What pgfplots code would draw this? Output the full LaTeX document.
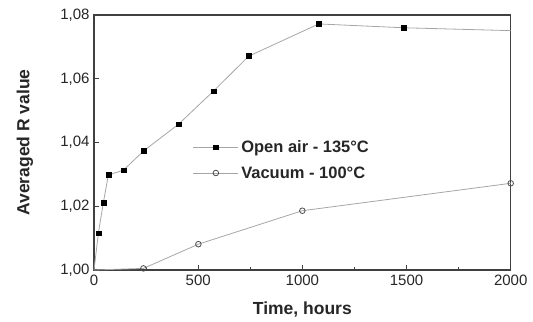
\documentclass[border=0pt]{standalone}
\usepackage{pgfplots}
\pgfplotsset{compat=1.18}
\usepackage{fontspec}
\setmainfont{Liberation Sans}
\begin{document}
\begin{tikzpicture}
\begin{axis}[
  scale only axis,
  width=416.7pt, height=255pt,
  xmin=0, xmax=2000, ymin=1.0, ymax=1.08,
  xtick={0,500,1000,1500,2000},
  ytick={1.00,1.02,1.04,1.06,1.08},
  minor x tick num=1,
  tick align=inside,
  xtick pos=bottom, ytick pos=left,
  major tick length=5pt, minor tick length=3pt,
  axis line style={line width=1.1pt, black!75},
  every tick/.style={line width=0.8pt, black!75},
  /pgf/number format/assume math mode=true,
  y tick label style={/pgf/number format/fixed, /pgf/number format/fixed zerofill,
    /pgf/number format/precision=2, /pgf/number format/use comma},
  x tick label style={/pgf/number format/1000 sep={}},
  xticklabel style={yshift=-1pt},
  yticklabel style={xshift=-1pt},
  tick label style={font=\fontsize{15}{17}\selectfont, text=black!85},
  xlabel={\bfseries Time, hours},
  ylabel={\bfseries Averaged R value},
  label style={font=\fontsize{17.5}{20}\selectfont, text=black!85},
  xlabel style={at={(0.5,0)}, anchor=center, yshift=-40pt},
  ylabel style={at={(0,0.5)}, anchor=center, rotate=0, yshift=69pt},
  legend style={draw=none, fill=none, at={(axis cs:474,1.0345)}, anchor=west,
    font=\fontsize{16.5}{19}\selectfont\bfseries, text=black!85, row sep=8.5pt,
    inner xsep=0pt, nodes={inner xsep=2.5pt}},
  legend cell align=left,
  legend image code/.code={\draw[mark indices={2}] plot coordinates {(0pt,0pt) (22.5pt,0pt) (45pt,0pt)};},
  clip=false,
]
\coordinate (O) at (rel axis cs:0,0);
\addplot[color=black!35, line width=0.8pt, mark=square*,
  mark options={black, fill=black, line width=0.5pt}, mark size=2.4pt,
  mark indices={2,3,4,5,6,7,8,9,10,11}]
coordinates {
(0,1.0000) (21,1.0115) (45,1.0212) (69,1.0298) (141,1.0313) (237,1.0373)
(405,1.0457) (573,1.0561) (743,1.0671) (1079,1.0772) (1485,1.0760) (2000,1.0751)
};
\addlegendentry{Open air - 135°C}
\addplot[color=black!35, line width=0.8pt, mark=o,
  mark options={black!70, line width=0.8pt, fill=white}, mark size=2.8pt,
  mark indices={2,3,4,5}]
coordinates {
(0,1.0000) (237,1.0005) (501,1.0081) (1000,1.0186) (2000,1.0272)
};
\addlegendentry{Vacuum - 100°C}
\end{axis}
\path (O) ++(-94pt,-50pt) rectangle ++(533pt,320pt);
\end{tikzpicture}
\end{document}
